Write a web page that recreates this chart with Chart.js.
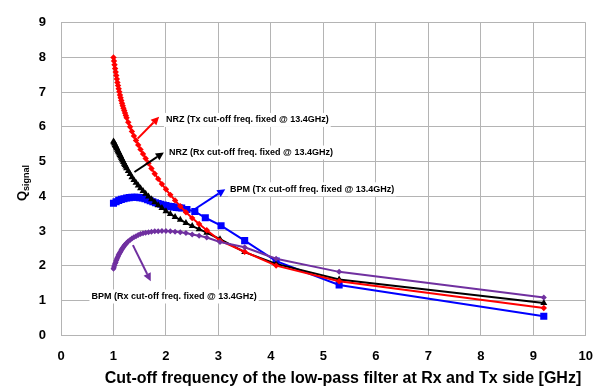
<!DOCTYPE html>
<html>
<head>
<meta charset="utf-8">
<script src="https://cdn.jsdelivr.net/npm/chart.js@4"></script>
<style>
  html, body { margin: 0; padding: 0; background: #ffffff; }
  #wrap { width: 607px; height: 389px; position: relative; }
</style>
</head>
<body>
<div id="wrap"><canvas id="q-chart" width="607" height="389"></canvas></div>
<script>
// Cut-off frequency grid (GHz) shared by NRZ Tx, NRZ Rx and BPM Rx
const denseFreq = [1.000, 1.010, 1.020, 1.031, 1.042, 1.053, 1.064, 1.075, 1.087, 1.099,
    1.111, 1.124, 1.136, 1.149, 1.163, 1.176, 1.190, 1.205, 1.220, 1.235, 1.250,
    1.282, 1.316, 1.351, 1.389, 1.429, 1.471, 1.515, 1.563, 1.613, 1.667,
    1.724, 1.786, 1.852, 1.923, 2.000, 2.083, 2.174, 2.273, 2.381, 2.500,
    2.632, 2.778, 3.030, 3.50, 4.10, 5.30, 9.20];

// Q values
const nrzTxQ = [8.00, 7.90, 7.79, 7.68, 7.58, 7.48, 7.38, 7.28, 7.19, 7.10,
    7.01, 6.92, 6.84, 6.76, 6.68, 6.61, 6.54, 6.47, 6.40, 6.33, 6.26,
    6.13, 6.00, 5.87, 5.74, 5.61, 5.48, 5.35, 5.22, 5.09, 4.95,
    4.80, 4.65, 4.50, 4.35, 4.20, 4.04, 3.88, 3.71, 3.54, 3.37,
    3.20, 3.02, 2.72, 2.40, 2.00, 1.55, 0.78];
const nrzRxQ = [5.58, 5.55, 5.52, 5.48, 5.45, 5.41, 5.38, 5.34, 5.30, 5.27,
    5.23, 5.19, 5.15, 5.11, 5.07, 5.03, 4.99, 4.94, 4.90, 4.86, 4.81,
    4.73, 4.64, 4.55, 4.47, 4.39, 4.31, 4.23, 4.15, 4.07, 3.99,
    3.91, 3.83, 3.74, 3.66, 3.57, 3.49, 3.40, 3.32, 3.23, 3.14,
    3.05, 2.95, 2.76, 2.39, 2.05, 1.60, 0.92];
const bpmRxQ = [1.91, 1.96, 2.01, 2.06, 2.10, 2.15, 2.19, 2.23, 2.27, 2.31,
    2.34, 2.38, 2.41, 2.45, 2.48, 2.51, 2.54, 2.57, 2.60, 2.62, 2.65,
    2.70, 2.74, 2.78, 2.82, 2.85, 2.88, 2.91, 2.93, 2.95, 2.96,
    2.98, 2.99, 2.99, 3.00, 3.00, 2.99, 2.98, 2.96, 2.94, 2.90,
    2.86, 2.81, 2.68, 2.53, 2.20, 1.82, 1.08];

// BPM Tx has its own frequency grid
const bpmTxFreq = [1.00, 1.05, 1.10, 1.15, 1.20, 1.25, 1.30, 1.35, 1.40, 1.45,
    1.50, 1.55, 1.60, 1.65, 1.70, 1.75, 1.80, 1.85, 1.90, 1.95, 2.00,
    2.05, 2.10, 2.15, 2.20, 2.25, 2.30, 2.40, 2.55, 2.75, 3.05, 3.50, 4.10, 5.30, 9.20];
const bpmTxQ = [3.80, 3.84, 3.88, 3.91, 3.93, 3.95, 3.96, 3.97, 3.97, 3.97,
    3.96, 3.95, 3.93, 3.90, 3.87, 3.84, 3.81, 3.79, 3.77, 3.75, 3.73,
    3.71, 3.70, 3.69, 3.68, 3.67, 3.66, 3.62, 3.56, 3.38, 3.15, 2.72, 2.13, 1.44, 0.54];

const xTicks = [0, 1, 2, 3, 4, 5, 6, 7, 8, 9, 10];
const yTicks = [0, 1, 2, 3, 4, 5, 6, 7, 8, 9];

const seriesNames = [
    'NRZ (Tx cut-off freq. fixed @ 13.4GHz)',
    'NRZ (Rx cut-off freq. fixed @ 13.4GHz)',
    'BPM (Tx cut-off freq. fixed @ 13.4GHz)',
    'BPM (Rx cut-off freq. fixed @ 13.4GHz)'
];

const FONT = '"Liberation Sans", Arial, sans-serif';
const GRID = '#b4b4b4';

// callout labels with arrows, placed in data coordinates
const callouts = [
    { text: seriesNames[0], color: '#ff0000', from: [1.46, 5.66], to: [1.87, 6.29], at: [2.00, 6.20] },
    { text: seriesNames[1], color: '#000000', from: [1.40, 4.70], to: [1.96, 5.26], at: [2.06, 5.26] },
    { text: seriesNames[2], color: '#0000ff', from: [2.51, 3.59], to: [3.13, 4.20], at: [3.22, 4.20] },
    { text: seriesNames[3], color: '#7030a0', from: [1.37, 2.59], to: [1.71, 1.55], at: [0.58, 1.11] }
];

function toPoints(xs, ys) {
    return xs.map((x, i) => ({ x: x, y: ys[i] }));
}

// arrow + text boxes, and the axis titles
const calloutPlugin = {
    id: 'callouts',
    afterDatasetsDraw(chart) {
        const ctx = chart.ctx;
        const xs = chart.scales.x, ys = chart.scales.y;
        ctx.save();
        ctx.font = 'bold 9px ' + FONT;
        ctx.textBaseline = 'middle';
        ctx.textAlign = 'left';
        callouts.forEach(c => {
            const tx = xs.getPixelForValue(c.at[0]);
            const ty = ys.getPixelForValue(c.at[1]);
            const w = ctx.measureText(c.text).width;
            ctx.fillStyle = '#ffffff';
            ctx.fillRect(tx - 2, ty - 7, w + 4, 14);
            ctx.fillStyle = '#000000';
            ctx.fillText(c.text, tx, ty);

            // arrow
            const x0 = xs.getPixelForValue(c.from[0]), y0 = ys.getPixelForValue(c.from[1]);
            const x1 = xs.getPixelForValue(c.to[0]), y1 = ys.getPixelForValue(c.to[1]);
            const ang = Math.atan2(y1 - y0, x1 - x0);
            const head = 8, half = 4;
            const bx = x1 - head * Math.cos(ang), by = y1 - head * Math.sin(ang);
            ctx.strokeStyle = c.color;
            ctx.fillStyle = c.color;
            ctx.lineWidth = 2;
            ctx.beginPath();
            ctx.moveTo(x0, y0);
            ctx.lineTo(bx, by);
            ctx.stroke();
            ctx.beginPath();
            ctx.moveTo(x1, y1);
            ctx.lineTo(bx + half * Math.sin(ang), by - half * Math.cos(ang));
            ctx.lineTo(bx - half * Math.sin(ang), by + half * Math.cos(ang));
            ctx.closePath();
            ctx.fill();
        });

        // x axis title
        ctx.fillStyle = '#000000';
        ctx.textAlign = 'center';
        ctx.font = 'bold 16px ' + FONT;
        ctx.fillText('Cut-off frequency of the low-pass filter at Rx and Tx side [GHz]', 343, 379);

        // y axis title Q with subscript
        ctx.translate(22, 201);
        ctx.rotate(-Math.PI / 2);
        ctx.textAlign = 'left';
        ctx.font = 'bold 13px ' + FONT;
        ctx.fillText('Q', 0, 0);
        const qw = ctx.measureText('Q').width;
        ctx.font = 'bold 9px ' + FONT;
        ctx.fillText('signal', qw, 5);
        ctx.restore();
    }
};

document.addEventListener('DOMContentLoaded', function () {
    const ctx = document.getElementById('q-chart').getContext('2d');

    const datasets = [
        { // BPM Rx
            label: seriesNames[3], data: toPoints(denseFreq, bpmRxQ),
            borderColor: '#7030a0', backgroundColor: '#7030a0',
            pointStyle: 'rectRot', pointRadius: 3
        },
        { // NRZ Tx
            label: seriesNames[0], data: toPoints(denseFreq, nrzTxQ),
            borderColor: '#ff0000', backgroundColor: '#ff0000',
            pointStyle: 'rectRot', pointRadius: 3.2
        },
        { // NRZ Rx
            label: seriesNames[1], data: toPoints(denseFreq, nrzRxQ),
            borderColor: '#000000', backgroundColor: '#000000',
            pointStyle: 'triangle', pointRadius: 4
        },
        { // BPM Tx
            label: seriesNames[2], data: toPoints(bpmTxFreq, bpmTxQ),
            borderColor: '#0000ff', backgroundColor: '#0000ff',
            pointStyle: 'rect', pointRadius: 5
        }
    ];
    datasets.forEach(d => {
        d.showLine = true;
        d.borderWidth = 2;
        d.pointBorderWidth = 0;
        d.tension = 0;
    });

    new Chart(ctx, {
        type: 'scatter',
        data: { datasets: datasets },
        options: {
            responsive: false,
            animation: false,
            devicePixelRatio: 1,
            layout: { padding: { left: 0, right: 16, top: 16, bottom: 0 } },
            plugins: {
                legend: { display: false },
                tooltip: { enabled: false }
            },
            scales: {
                x: {
                    type: 'linear', min: 0, max: 10,
                    afterBuildTicks: s => { s.ticks = xTicks.map(v => ({ value: v })); },
                    afterFit: s => { s.height = 54; },
                    grid: { color: GRID, drawTicks: false },
                    border: { color: GRID },
                    ticks: { color: '#000', padding: 14, font: { family: FONT, size: 13, weight: 'bold' } }
                },
                y: {
                    type: 'linear', min: 0, max: 9,
                    afterBuildTicks: s => { s.ticks = yTicks.map(v => ({ value: v })); },
                    afterFit: s => { s.width = 61; },
                    grid: { color: GRID, drawTicks: false },
                    border: { color: GRID },
                    ticks: { color: '#000', padding: 15, font: { family: FONT, size: 13, weight: 'bold' } }
                }
            }
        },
        plugins: [calloutPlugin]
    });
});
</script>
</body>
</html>
